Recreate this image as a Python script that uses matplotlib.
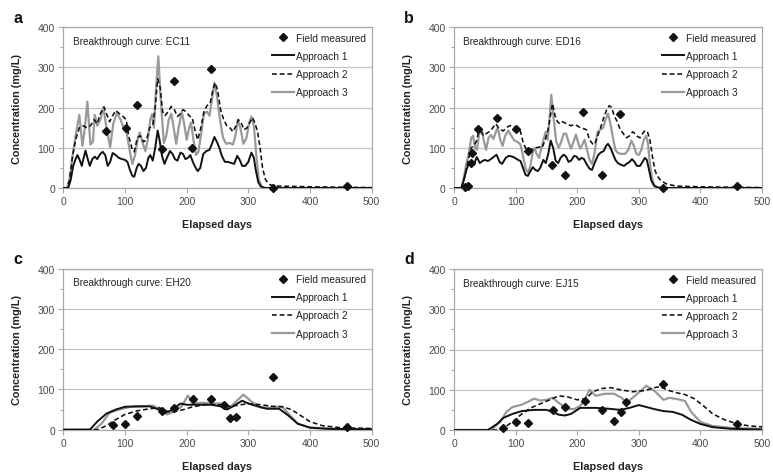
import matplotlib
matplotlib.use("Agg")
import matplotlib.pyplot as plt
from matplotlib.lines import Line2D
from matplotlib.ticker import MultipleLocator

plt.rcParams['font.family'] = ['Liberation Sans', 'DejaVu Sans']

# ---------------- Panel a : EC11 ----------------
a_field_days = [70, 101, 120, 160, 180, 209, 240, 340, 460]
a_field_vals = [143, 150, 207, 96, 267, 99, 296, 1, 5]

a1_days = [0, 8, 12, 16, 20, 23, 27, 30, 33, 36, 40, 43, 47, 51, 55, 60, 64, 68, 72, 76, 80, 85, 90, 95, 100,
           104, 108, 112, 115, 119, 122, 126, 130, 134, 138, 141, 145, 149, 153, 156, 160, 164, 168, 173, 177,
           181, 185, 190, 194, 198, 202, 206, 210, 214, 218, 222, 227, 232, 237, 241, 245, 249, 253, 257, 262,
           267, 273, 277, 282, 286, 290, 295, 300, 305, 309, 312, 316, 320, 326, 500]
a1_vals = [0, 0, 20, 55, 72, 82, 68, 55, 75, 93, 70, 55, 72, 78, 72, 85, 90, 82, 55, 65, 87, 82, 75, 72, 70,
           65, 45, 30, 28, 50, 60, 55, 42, 50, 75, 82, 68, 100, 143, 120, 80, 60, 75, 92, 85,
           72, 68, 88, 85, 72, 75, 82, 65, 52, 42, 50, 85, 92, 95, 110, 127, 115, 100, 80, 65,
           65, 62, 60, 80, 70, 55, 55, 65, 88, 75, 45, 15, 4, 0, 0]

a2_days = [0, 6, 10, 15, 20, 26, 32, 38, 44, 50, 55, 60, 66, 70, 75, 80, 85, 91, 97, 102, 106, 111, 115, 120,
           125, 130, 135, 140, 145, 149, 153, 157, 161, 165, 170, 175, 180, 185, 190, 194, 199, 204, 209, 214,
           218, 223, 228, 233, 238, 242, 246, 250, 255, 260, 265, 270, 275, 280, 284, 289, 293, 298, 303, 307,
           311, 315, 319, 323, 328, 335, 345, 400, 500]
a2_vals = [0, 0, 20, 80, 120, 150, 155, 150, 155, 170, 160, 185, 202, 185, 165, 180, 193, 185, 178, 170, 130,
           100, 90, 125, 130, 115, 120, 150, 155, 200, 272, 250, 190, 180, 190, 203, 195, 178, 185, 195, 190,
           180, 175, 140, 120, 150, 190, 205, 210, 240, 262, 245, 195, 170, 155, 150, 140, 155, 170, 160, 145,
           150, 165, 175, 160, 140, 100, 50, 20, 8, 5, 3, 1]

a3_days = [0, 6, 10, 15, 20, 26, 31, 35, 39, 44, 48, 51, 55, 60, 65, 70, 76, 81, 87, 93, 98, 103, 108, 112,
           116, 121, 124, 128, 133, 137, 141, 144, 147, 150, 154, 158, 163, 167, 171, 175, 179, 183, 187, 192,
           196, 200, 204, 207, 211, 215, 219, 224, 228, 233, 237, 241, 245, 249, 254, 259, 264, 270, 275, 279,
           283, 287, 292, 297, 301, 305, 309, 313, 317, 322, 328, 500]
a3_vals = [0, 0, 20, 80, 130, 182, 105, 150, 215, 108, 115, 182, 155, 170, 200, 150, 102, 160, 187, 170, 148,
           135, 90, 60, 80, 125, 138, 115, 92, 120, 170, 184, 150, 240, 328, 220, 112, 130, 170, 185, 150,
           110, 150, 190, 160, 120, 150, 163, 120, 82, 90, 140, 185, 190, 180, 220, 262, 230, 170, 125, 110,
           112, 108, 130, 170, 150, 110, 125, 160, 178, 155, 80, 20, 3, 0, 0]

# ---------------- Panel b : ED16 ----------------
b_field_days = [18, 23, 27, 30, 39, 70, 101, 120, 159, 180, 210, 241, 270, 340, 460]
b_field_vals = [3, 5, 62, 88, 148, 174, 148, 91, 58, 32, 190, 32, 184, 0, 5]

b1_days = [0, 12, 16, 20, 24, 28, 32, 37, 42, 46, 50, 55, 60, 65, 69, 74, 78, 84, 89, 95, 100, 104, 108, 112,
           116, 120, 124, 128, 132, 136, 140, 145, 149, 153, 157, 161, 165, 169, 173, 178, 182, 186, 190, 195,
           199, 203, 207, 211, 215, 220, 224, 229, 234, 238, 243, 247, 250, 254, 258, 262, 266, 271, 276, 280,
           285, 289, 293, 297, 302, 306, 310, 313, 316, 320, 325, 332, 345, 500]
b1_vals = [0, 0, 20, 45, 60, 62, 57, 77, 62, 67, 70, 67, 72, 78, 83, 65, 60, 75, 80, 78, 74, 70, 67, 50,
           33, 30, 42, 52, 45, 42, 50, 70, 62, 85, 118, 100, 68, 62, 75, 83, 78, 65, 68, 80,
           78, 70, 75, 72, 60, 48, 45, 65, 82, 88, 92, 105, 110, 100, 85, 70, 62, 58, 55, 60,
           65, 72, 65, 55, 55, 65, 75, 70, 50, 20, 5, 1, 0, 0]

b2_days = [0, 12, 16, 20, 24, 28, 32, 36, 40, 44, 48, 52, 57, 62, 68, 72, 76, 80, 85, 90, 95, 100, 104, 108,
           112, 116, 120, 124, 128, 133, 138, 143, 148, 152, 156, 160, 164, 168, 172, 176, 180, 185, 190, 195,
           200, 205, 210, 215, 220, 225, 228, 232, 238, 243, 248, 252, 256, 260, 265, 270, 275, 280, 285, 290,
           294, 298, 302, 306, 310, 314, 318, 322, 326, 330, 336, 345, 360, 400, 500]
b2_vals = [0, 0, 20, 45, 75, 100, 105, 115, 140, 140, 130, 135, 140, 148, 160, 150, 145, 142, 150, 155, 155,
           150, 150, 140, 115, 100, 95, 98, 95, 100, 102, 100, 120, 140, 175, 210, 180, 165, 160, 165, 162,
           158, 155, 158, 155, 150, 148, 145, 120, 110, 108, 125, 150, 175, 195, 205, 200, 180, 165, 145, 135,
           125, 130, 140, 135, 128, 125, 135, 143, 140, 120, 80, 45, 30, 18, 10, 5, 3, 1]

b3_days = [0, 12, 16, 20, 24, 28, 31, 34, 37, 41, 45, 48, 52, 56, 60, 64, 68, 71, 75, 79, 83, 88, 93, 98,
           103, 108, 112, 116, 120, 124, 128, 131, 134, 138, 142, 146, 149, 152, 155, 158, 162, 166, 170, 174,
           178, 182, 186, 190, 194, 198, 202, 205, 209, 212, 216, 220, 224, 228, 233, 238, 242, 246, 250, 254,
           258, 262, 266, 272, 278, 283, 288, 292, 296, 300, 304, 308, 312, 315, 318, 322, 326, 332, 500]
b3_vals = [0, 0, 25, 60, 85, 125, 130, 100, 95, 135, 148, 120, 95, 125, 132, 122, 140, 150, 120, 105, 130,
           143, 130, 118, 115, 108, 80, 50, 38, 55, 90, 100, 85, 75, 100, 125, 140, 120, 170, 232, 170, 115,
           100, 115, 135, 135, 115, 98, 115, 133, 110, 98, 110, 120, 95, 70, 60, 85, 140, 145, 150, 170, 185,
           160, 125, 95, 87, 85, 85, 95, 118, 105, 85, 82, 95, 120, 130, 110, 60, 20, 5, 0, 0]

# ---------------- Panel c : EH20 ----------------
c_field_days = [80, 100, 120, 160, 180, 210, 240, 261, 270, 280, 340, 460]
c_field_vals = [12, 14, 35, 47, 54, 76, 76, 62, 28, 31, 132, 6]

c1_days = [0, 43, 55, 70, 85, 100, 120, 140, 155, 165, 175, 190, 200, 220, 240, 255, 265, 275, 290, 300,
           315, 330, 350, 365, 380, 400, 430, 500]
c1_vals = [0, 0, 20, 40, 50, 57, 58, 58, 50, 42, 48, 65, 62, 62, 62, 58, 50, 58, 72, 65,
           58, 52, 52, 35, 15, 5, 2, 1]

c2_days = [0, 55, 70, 85, 100, 120, 140, 155, 170, 180, 195, 210, 230, 250, 265, 280, 300, 320, 340, 355,
           370, 385, 400, 420, 450, 500]
c2_vals = [0, 0, 10, 25, 38, 47, 52, 55, 45, 45, 50, 57, 62, 63, 58, 60, 65, 62, 58, 57,
           50, 35, 20, 10, 5, 3]

c3_days = [0, 50, 62, 75, 90, 110, 130, 145, 155, 168, 180, 192, 202, 210, 225, 245, 260, 268, 280, 292,
           305, 320, 335, 345, 355, 365, 380, 400, 450, 500]
c3_vals = [0, 0, 15, 42, 50, 57, 58, 60, 52, 38, 45, 58, 85, 65, 67, 65, 65, 52, 70, 87,
           70, 55, 55, 57, 57, 40, 15, 5, 2, 1]

# ---------------- Panel d : EJ15 ----------------
d_field_days = [80, 100, 120, 160, 180, 212, 241, 260, 271, 280, 340, 460]
d_field_vals = [4, 19, 17, 50, 58, 73, 50, 23, 44, 70, 115, 15]

d1_days = [0, 55, 70, 80, 95, 110, 130, 150, 160, 170, 180, 190, 205, 230, 250, 270, 285, 300, 310, 325,
           340, 355, 370, 385, 400, 420, 450, 500]
d1_vals = [0, 0, 15, 30, 40, 47, 50, 50, 45, 38, 36, 40, 55, 55, 53, 50, 55, 62, 58, 52,
           47, 45, 38, 25, 15, 7, 3, 1]

d2_days = [0, 70, 80, 95, 110, 125, 140, 160, 170, 185, 200, 215, 225, 240, 255, 270, 290, 310, 325, 335,
           345, 360, 375, 390, 405, 420, 440, 460, 480, 500]
d2_vals = [0, 0, 5, 20, 40, 55, 65, 78, 85, 82, 75, 78, 95, 103, 105, 100, 95, 98, 105, 108,
           100, 93, 88, 78, 60, 40, 25, 15, 10, 8]

d3_days = [0, 60, 75, 85, 95, 110, 120, 130, 140, 150, 160, 172, 185, 195, 205, 212, 220, 230, 245, 260,
           272, 280, 290, 305, 312, 325, 340, 350, 365, 375, 385, 400, 420, 450, 500]
d3_vals = [0, 0, 20, 45, 57, 63, 70, 78, 73, 75, 80, 65, 52, 52, 60, 75, 100, 85, 90, 90,
           80, 68, 80, 100, 110, 98, 75, 80, 76, 72, 45, 20, 10, 5, 3]

panel_letters = ["a", "b", "c", "d"]
curve_names = ["EC11", "ED16", "EH20", "EJ15"]
legend_labels = ["Field measured", "Approach 1", "Approach 2", "Approach 3"]
x_ticks = [0, 100, 200, 300, 400, 500]
y_ticks = [0, 100, 200, 300, 400]

panels = [
    (a_field_days, a_field_vals, a1_days, a1_vals, a2_days, a2_vals, a3_days, a3_vals),
    (b_field_days, b_field_vals, b1_days, b1_vals, b2_days, b2_vals, b3_days, b3_vals),
    (c_field_days, c_field_vals, c1_days, c1_vals, c2_days, c2_vals, c3_days, c3_vals),
    (d_field_days, d_field_vals, d1_days, d1_vals, d2_days, d2_vals, d3_days, d3_vals),
]

W, H = 773, 477
fig = plt.figure(figsize=(W / 100, H / 100), dpi=100)

# axes rectangles in pixels: (left, top, right, bottom)
rects = [(63.3, 28.3, 371.7, 189.0), (454.0, 28.3, 762.0, 189.0),
         (63.3, 269.7, 371.7, 430.7), (454.0, 270.0, 762.0, 431.0)]

GRAY_LINE = "#999999"
GRID = "#c4c4c4"
SPINE = "#a8a8a8"
TICKLAB = "#4a4a4a"
MS = 3.6

for i, (rect, data) in enumerate(zip(rects, panels)):
    l, t, r, b = rect
    ax = fig.add_axes([l / W, 1 - b / H, (r - l) / W, (b - t) / H])
    fd, fv, d1, v1, d2, v2, d3, v3 = data
    ax.set_xlim(0, 500)
    ax.set_ylim(0, 400)
    ax.set_xticks(x_ticks)
    ax.set_yticks(y_ticks)
    ax.yaxis.set_minor_locator(MultipleLocator(50))
    ax.grid(axis="y", which="major", color=GRID, lw=0.9, zorder=0)
    for s in ax.spines.values():
        s.set_color(SPINE)
        s.set_linewidth(0.9)
    ax.tick_params(axis="both", which="major", direction="out", length=3.5, width=0.8,
                   color=SPINE, labelsize=7.5, labelcolor=TICKLAB, pad=2.5)
    ax.tick_params(axis="y", which="minor", direction="out", length=2.5, width=0.8, color=SPINE)

    ax.plot(d3, v3, color=GRAY_LINE, lw=1.6, solid_joinstyle="round", zorder=3)
    ax.plot(d2, v2, color="#111111", lw=1.15, ls=(0, (3.0, 1.8)), zorder=4)
    ax.plot(d1, v1, color="#111111", lw=1.4, solid_joinstyle="round", zorder=5)
    ax.plot(fd, fv, ls="none", marker="D", ms=MS, color="#111111", zorder=6, clip_on=False)

    ax.set_xlabel("Elapsed days", fontsize=7.8, fontweight="bold", color="#222222", labelpad=9)
    ax.set_ylabel("Concentration (mg/L)", fontsize=7.8, fontweight="bold", color="#222222", labelpad=11)
    ax.text(0.03, 0.915, "Breakthrough curve: " + curve_names[i], transform=ax.transAxes,
            fontsize=7.2, color="#222222", va="center", ha="left")

    handles = [
        Line2D([], [], ls="none", marker="D", ms=MS, color="#111111"),
        Line2D([], [], color="#111111", lw=1.4),
        Line2D([], [], color="#111111", lw=1.15, ls=(0, (3.0, 1.8))),
        Line2D([], [], color=GRAY_LINE, lw=1.6),
    ]
    ax.legend(handles, legend_labels, loc="upper right", bbox_to_anchor=(1.0, 1.0), frameon=False,
              fontsize=7.3, handlelength=2.2, handletextpad=0.2, labelspacing=0.8,
              borderaxespad=0.25, borderpad=0.3, numpoints=1, labelcolor="#222222")

    fig.text((l - 50) / W, 1 - (t - 10) / H, panel_letters[i], fontsize=11.5, fontweight="bold",
             ha="left", va="center", color="#111111")

fig.savefig("out.png", dpi=100)
